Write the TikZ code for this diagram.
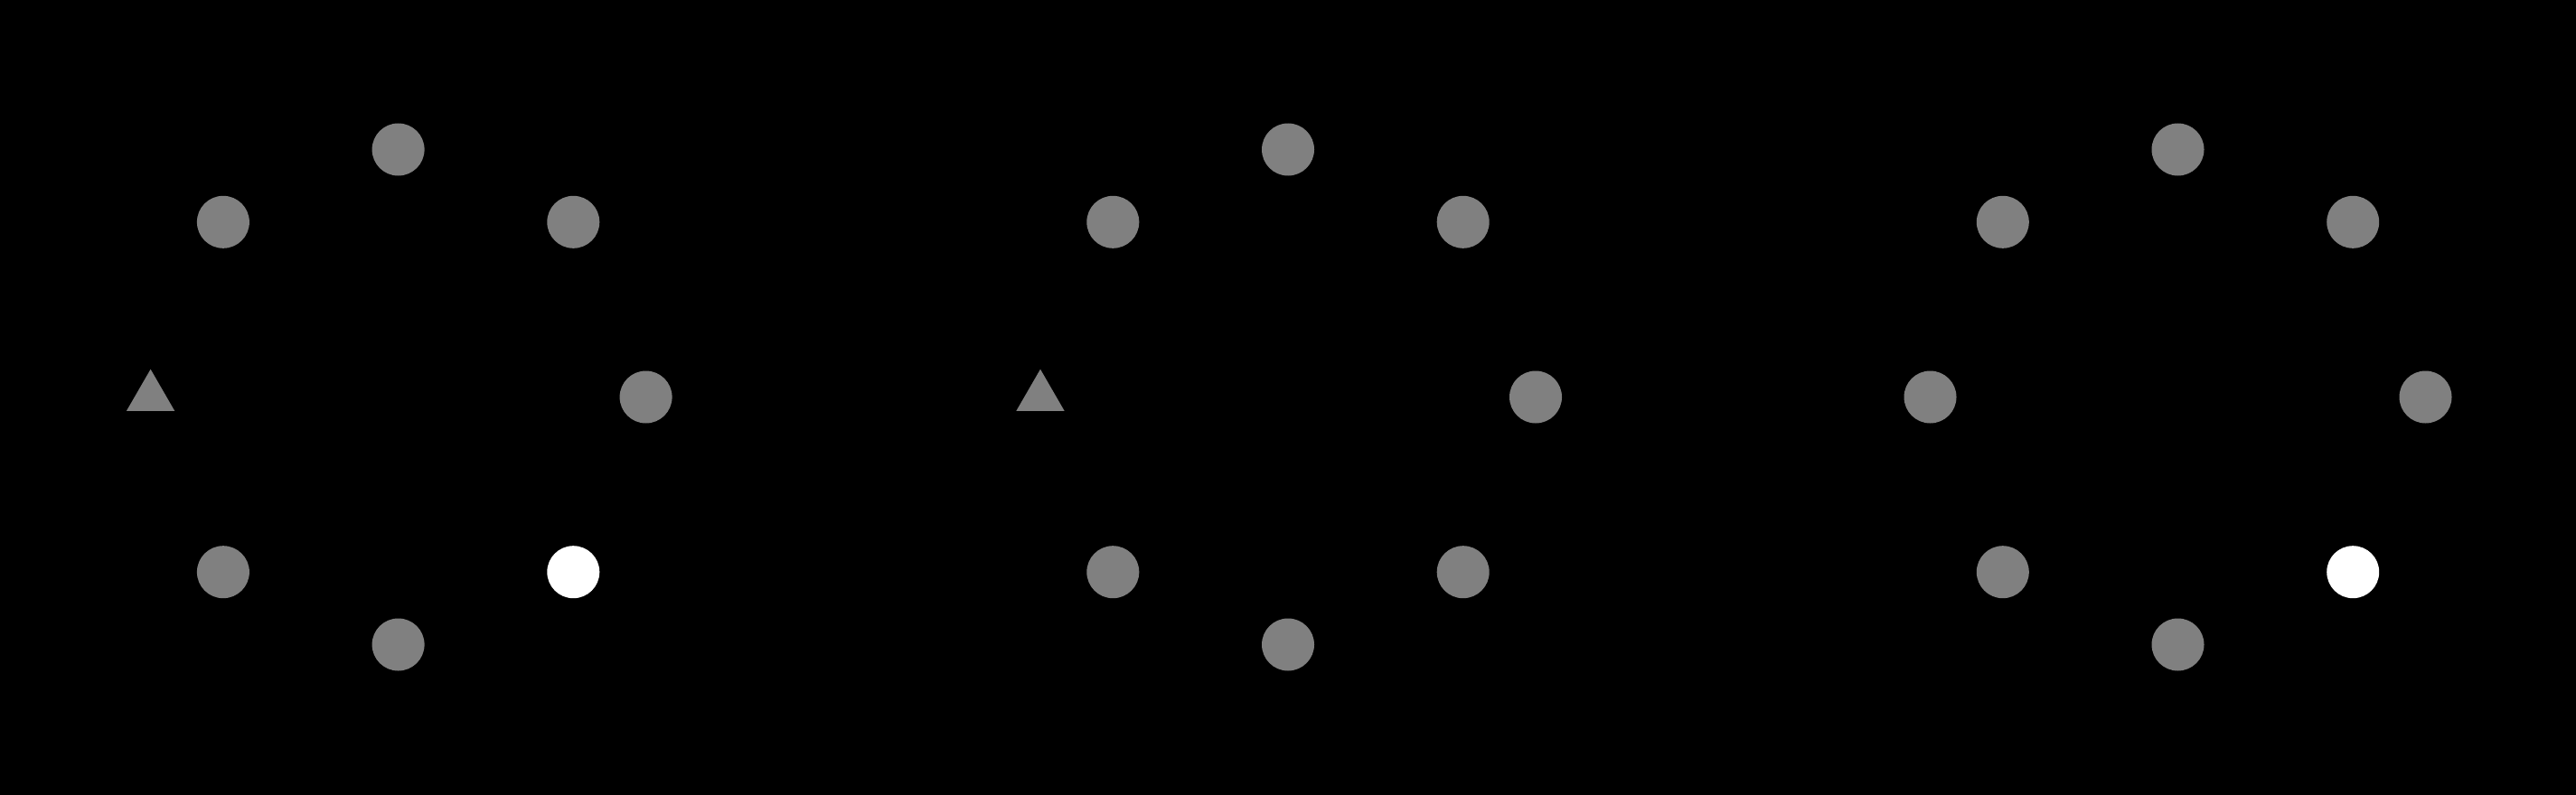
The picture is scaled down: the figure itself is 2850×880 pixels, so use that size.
\documentclass[tikz,border=0pt]{standalone}
\usetikzlibrary{shapes.geometric}
\definecolor{dotgray}{HTML}{808080}
\tikzset{
  dot/.style={circle,fill=dotgray,draw=none,inner sep=0pt,minimum size=58pt},
  hidot/.style={circle,fill=white,draw=none,inner sep=0pt,minimum size=58pt},
  tri/.style={regular polygon,regular polygon sides=3,fill=dotgray,draw=none,inner sep=0pt,minimum size=61.6pt}
}
\begin{document}
\begin{tikzpicture}[x=1pt,y=-1pt]
\fill[black] (0,0) rectangle (2850,880);
\useasboundingbox (0,0) rectangle (2850,880);
\def\R{274}
\def\D{193.7}
% panel 1
\begin{scope}[shift={(440.6,439.5)}]
\node[dot] (a1) at (0,-\R) {};
\node[dot] (a2) at (\D,-\D) {};
\node[dot] (a3) at (\R,0) {};
\node[hidot] (a4) at (\D,\D) {};
\node[dot] (a5) at (0,\R) {};
\node[dot] (a6) at (-\D,\D) {};
\node[tri] (a7) at (-\R,0) {};
\node[dot] (a8) at (-\D,-\D) {};
\end{scope}
% panel 2
\begin{scope}[shift={(1425,439.5)}]
\node[dot] (b1) at (0,-\R) {};
\node[dot] (b2) at (\D,-\D) {};
\node[dot] (b3) at (\R,0) {};
\node[dot] (b4) at (\D,\D) {};
\node[dot] (b5) at (0,\R) {};
\node[dot] (b6) at (-\D,\D) {};
\node[tri] (b7) at (-\R,0) {};
\node[dot] (b8) at (-\D,-\D) {};
\end{scope}
% panel 3
\begin{scope}[shift={(2409.5,439.5)}]
\node[dot] (c1) at (0,-\R) {};
\node[dot] (c2) at (\D,-\D) {};
\node[dot] (c3) at (\R,0) {};
\node[hidot] (c4) at (\D,\D) {};
\node[dot] (c5) at (0,\R) {};
\node[dot] (c6) at (-\D,\D) {};
\node[dot] (c7) at (-\R,0) {};
\node[dot] (c8) at (-\D,-\D) {};
\end{scope}
\end{tikzpicture}
\end{document}
